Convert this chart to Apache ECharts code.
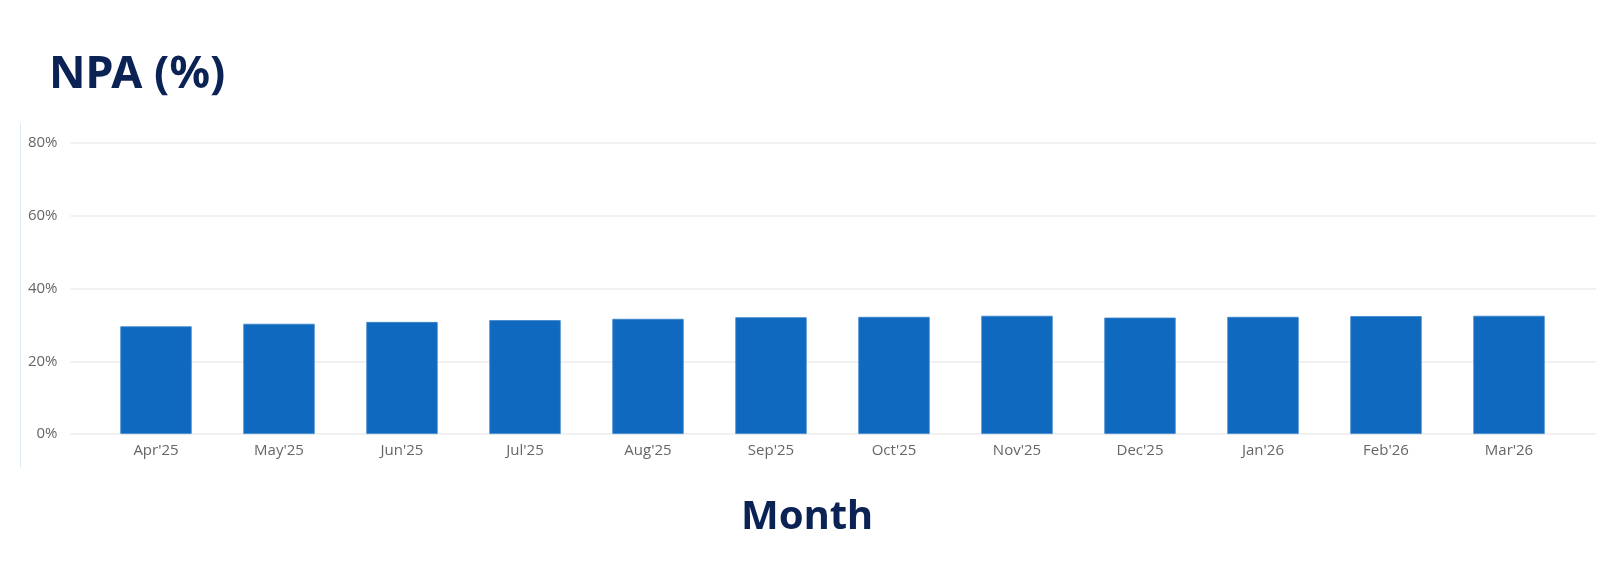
<!DOCTYPE html>
<html>
<head>
<meta charset="utf-8">
<script src="https://cdn.jsdelivr.net/npm/echarts@6/dist/echarts.min.js"></script>
<style>
html,body{margin:0;padding:0;background:#fff;}
#c{width:1603px;height:569px;}
</style>
</head>
<body>
<div id="c"></div>
<script>
const categories = ["Apr'25","May'25","Jun'25","Jul'25","Aug'25","Sep'25","Oct'25","Nov'25","Dec'25","Jan'26","Feb'26","Mar'26"];
const npaValues = [29.6, 30.3, 30.8, 31.3, 31.65, 32.1, 32.2, 32.5, 32.0, 32.2, 32.4, 32.5];
const yTicks = { min: 0, max: 80, interval: 20 };
const titleText = 'NPA (%)';
const xAxisTitle = 'Month';

const chart = echarts.init(document.getElementById('c'), null, {renderer:'canvas'});
const labelFont = {fontFamily:'Open Sans', fontSize:15, color:'#666666'};
chart.setOption({
  animation:false,
  backgroundColor:'#ffffff',
  title:{
    text:titleText, left:44, top:48,
    textStyle:{fontFamily:'Noto Sans', fontWeight:'bold', fontSize:45, color:'#0b2255'}
  },
  graphic:[
    {type:'line', shape:{x1:20.5,y1:123,x2:20.5,y2:468}, style:{stroke:'#dcedfa', lineWidth:1}},
    {type:'text', left:805-64, top:498, style:{text:xAxisTitle, fontFamily:'Noto Sans', fontWeight:'bold', fontSize:40, fill:'#0b2255'}}
  ],
  grid:[
    {left:94.5, right:32.5, top:143, bottom:135},
    {left:70.5, right:7, top:143, bottom:135}
  ],
  xAxis:[
    {type:'category', gridIndex:0, data:categories,
     axisLine:{show:false}, axisTick:{show:false},
     axisLabel:Object.assign({margin:9}, labelFont)},
    {type:'value', gridIndex:1, min:0, max:1, show:false}
  ],
  yAxis:[
    {type:'value', gridIndex:0, min:yTicks.min, max:yTicks.max, interval:yTicks.interval, show:false},
    {type:'value', gridIndex:1, min:yTicks.min, max:yTicks.max, interval:yTicks.interval,
     axisLine:{show:false}, axisTick:{show:false},
     splitLine:{show:true, lineStyle:{color:'#ececec', width:1.5}},
     axisLabel:Object.assign({margin:13, formatter:'{value}%'}, labelFont)}
  ],
  series:[{
    type:'bar', xAxisIndex:0, yAxisIndex:0, data:npaValues,
    barWidth:'58%',
    itemStyle:{color:'#0f69bf', borderColor:'#3a85cc', borderWidth:0.8},
    z:3
  }]
});
</script>
</body>
</html>
